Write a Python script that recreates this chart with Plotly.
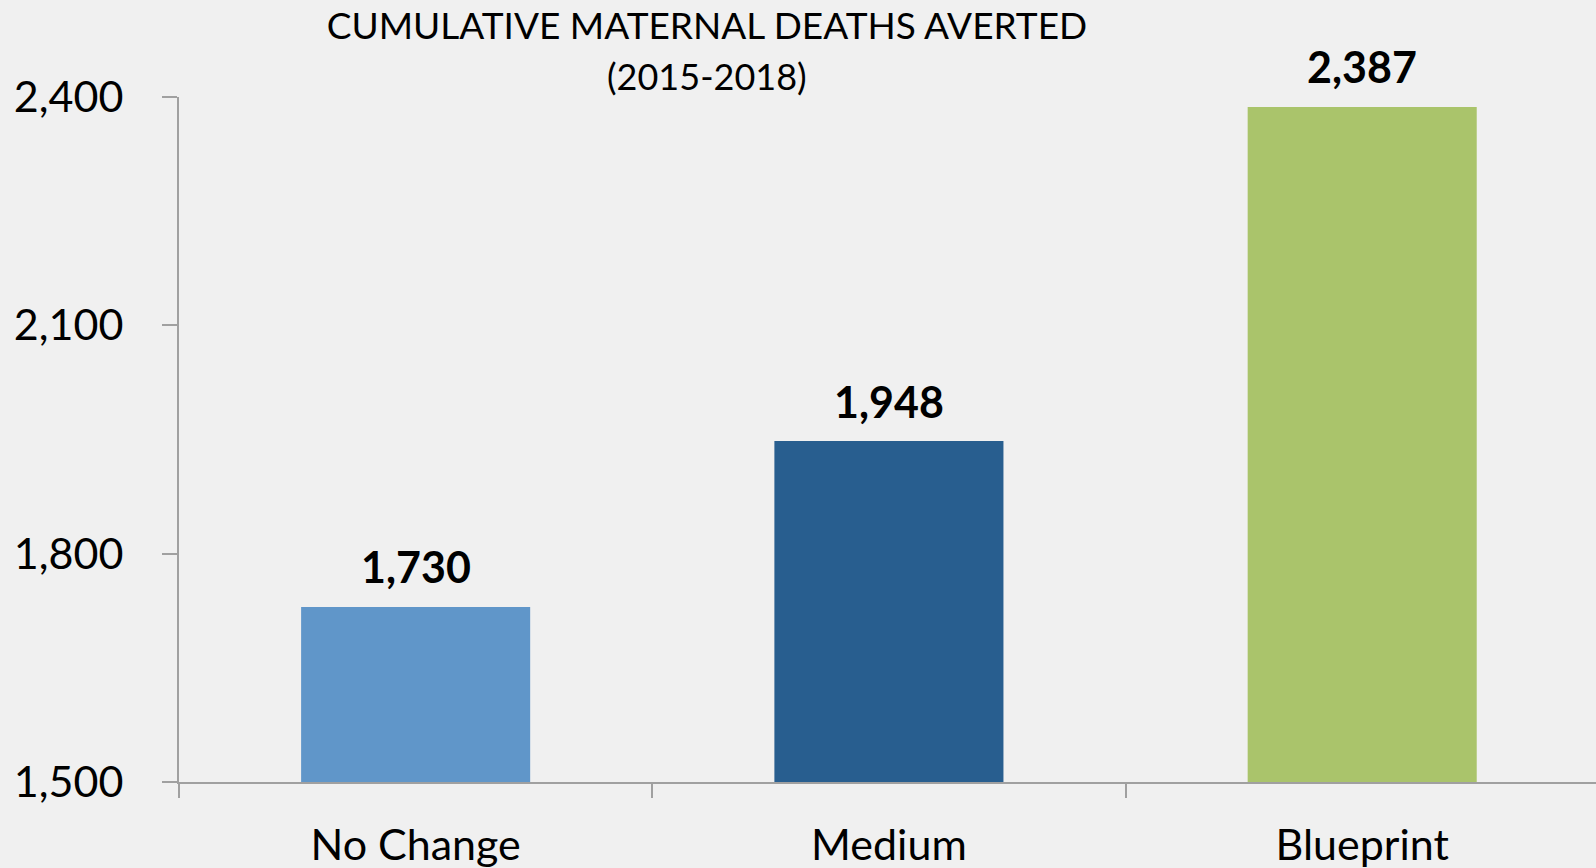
import plotly.graph_objects as go

categories = ["No Change", "Medium", "Blueprint"]
values = [1730, 1948, 2387]
bar_colors = ["#6096C9", "#285E8F", "#AAC46B"]
value_labels = ["1,730", "1,948", "2,387"]
y_ticks = [1500, 1800, 2100, 2400]
y_tick_labels = ["1,500", "1,800", "2,100", "2,400"]
title_line1 = "CUMULATIVE MATERNAL DEATHS AVERTED"
title_line2 = "(2015-2018)"

FONT = "Lato, 'Open Sans', sans-serif"
AXIS_COLOR = "#A0A0A0"
BG = "#F0F0F0"

W, H = 1596, 868
L, R, T, B = 179, 0, 97, 86
TITLE_CX = 707

fig = go.Figure()
fig.add_trace(go.Bar(
    x=categories,
    y=values,
    marker=dict(color=bar_colors, line=dict(width=0)),
    width=0.484,
    hoverinfo="x+y",
    showlegend=False,
))

for c, v, t in zip(categories, values, value_labels):
    fig.add_annotation(
        x=c, y=v, xref="x", yref="y", text=f"<b>{t}</b>",
        showarrow=False, yanchor="middle", yshift=40,
        font=dict(family=FONT, size=43, color="#000000"),
    )

fig.add_annotation(
    x=(TITLE_CX - L) / (W - L - R), y=1 + 21 / (H - T - B),
    xref="paper", yref="paper",
    text=title_line2, showarrow=False, xanchor="center", yanchor="middle",
    font=dict(family=FONT, size=36, color="#000000"),
)

fig.update_layout(
    width=W, height=H,
    paper_bgcolor=BG, plot_bgcolor=BG,
    margin=dict(l=L, r=R, t=T, b=B),
    title=dict(
        text=title_line1, x=TITLE_CX / W, xref="container", xanchor="center",
        y=1 - 26 / H, yref="container", yanchor="middle",
        font=dict(family=FONT, size=37, color="#000000"),
    ),
    font=dict(family=FONT, color="#000000"),
)

fig.update_xaxes(
    type="category",
    range=[-0.5, 2.494],
    showline=True, linecolor=AXIS_COLOR, linewidth=2,
    ticks="outside", tickson="boundaries", ticklen=14, tickwidth=2, tickcolor=AXIS_COLOR,
    tickfont=dict(family=FONT, size=43, color="#000000"),
    ticklabelstandoff=24,
    showgrid=False, zeroline=False,
)

fig.update_yaxes(
    range=[1500, 2400],
    tickvals=y_ticks, ticktext=y_tick_labels,
    showline=True, linecolor=AXIS_COLOR, linewidth=2,
    ticks="outside", ticklen=15, tickwidth=2, tickcolor=AXIS_COLOR,
    tickfont=dict(family=FONT, size=43, color="#000000"),
    ticklabelstandoff=30,
    showgrid=False, zeroline=False,
)

fig.write_html(
    "out.html",
    config={"displayModeBar": False},
    post_script="document.body.style.margin='0';document.body.style.background='%s';" % BG,
)
